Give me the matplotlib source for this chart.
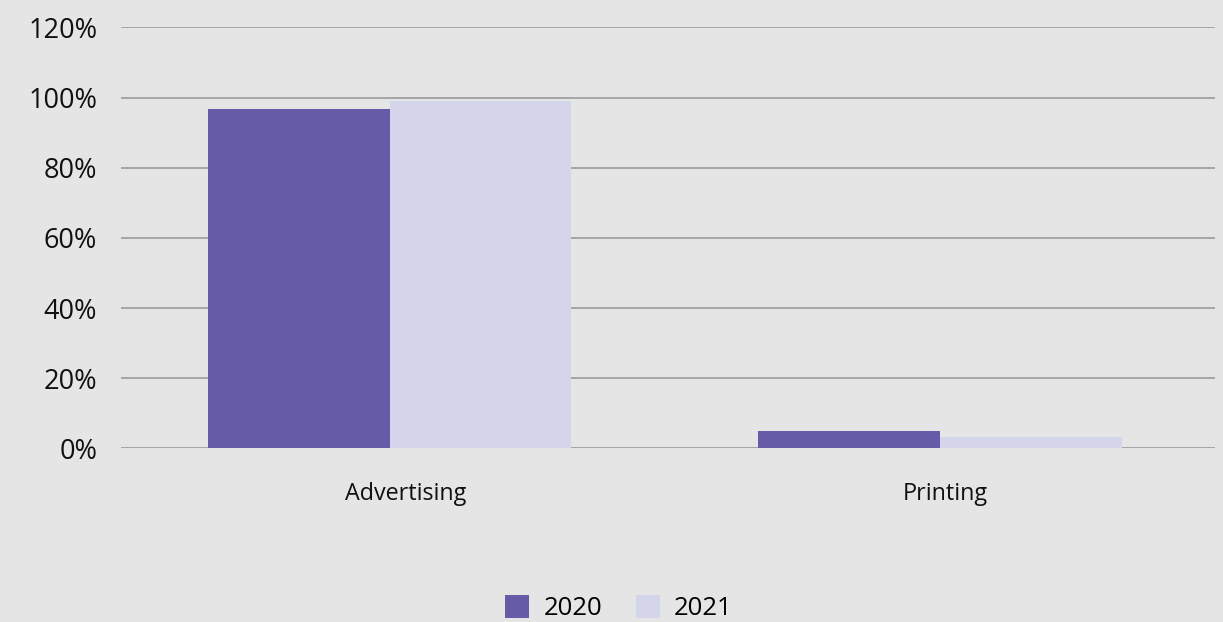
import matplotlib
matplotlib.use("Agg")
import matplotlib.pyplot as plt
import matplotlib.transforms as mtransforms
import numpy as np
from matplotlib.ticker import FuncFormatter

categories = ["Advertising", "Printing"]
series_names = ["2020", "2021"]
values_2020 = [0.968, 0.050]
values_2021 = [0.991, 0.034]
y_ticks = [0, 0.2, 0.4, 0.6, 0.8, 1.0, 1.2]

colors = ["#665ba6", "#d4d4ea"]
bg = "#e5e5e5"

plt.rcParams["font.family"] = ["Open Sans", "DejaVu Sans"]

fig = plt.figure(figsize=(12.23, 6.22), dpi=100, facecolor=bg)
ax = fig.add_axes([0.0989, 0.279, 0.8946, 0.6768], facecolor=bg)

x = np.arange(len(categories))
w = 0.33
ax.bar(x - w / 2, values_2020, width=w, color=colors[0], label=series_names[0], zorder=3)
ax.bar(x + w / 2, values_2021, width=w, color=colors[1], label=series_names[1], zorder=3)

ax.set_xlim(-0.489, 1.5)
ax.set_ylim(0, 1.2)
ax.set_yticks(y_ticks)
ax.yaxis.set_major_formatter(FuncFormatter(lambda v, p: f"{v * 100:.0f}%"))
ax.set_xticks(x)
ax.set_xticklabels(categories)

ax.grid(axis="y", color="#a0a0a0", linewidth=1.3, zorder=0)
for s in ax.spines.values():
    s.set_visible(False)
ax.tick_params(axis="y", length=0, pad=17, labelsize=19.5, labelcolor="#111111")
ax.tick_params(axis="x", length=0, pad=24, labelsize=16.8, labelcolor="#111111")

# nudge category labels slightly to the right
for lbl, dx in zip(ax.get_xticklabels(), [0.16, 0.05]):
    lbl.set_transform(lbl.get_transform() + mtransforms.ScaledTranslation(dx, 0, fig.dpi_scale_trans))

leg = fig.legend(loc="center", bbox_to_anchor=(0.506, 0.022), ncol=2, frameon=False,
                 fontsize=18.5, handlelength=0.95, handleheight=1.0, columnspacing=1.3,
                 handletextpad=0.55)

fig.savefig("out.png", dpi=100, facecolor=bg)
